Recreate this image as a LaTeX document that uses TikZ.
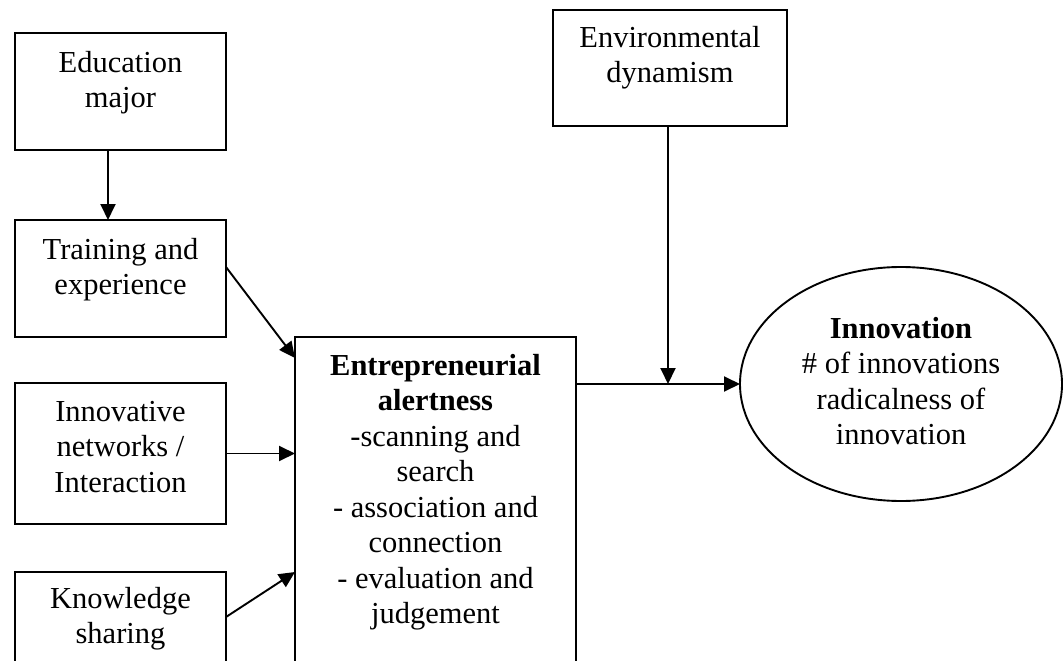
\documentclass[tikz,border=0pt]{standalone}
\usepackage{fontspec}
\setmainfont{Liberation Serif}
\usetikzlibrary{arrows.meta,shapes.geometric}
\tikzset{
  box/.style={draw, line width=1.9pt, rectangle, inner sep=0pt, outer sep=0pt},
  lbl/.style={anchor=north, align=center, inner sep=0pt},
  arr/.style={line width=1.9pt, -{Triangle[length=16pt,width=15pt]}}
}
\begin{document}
\begin{tikzpicture}[x=1pt, y=-1pt, font=\fontsize{30.5pt}{35.5pt}\selectfont]
\useasboundingbox (0,0) rectangle (1063,661);
\clip (0,0) rectangle (1063,661);
% boxes
\node[box, minimum width=211pt, minimum height=117pt] (edu) at (120.5,91.5) {};
\node[box, minimum width=211pt, minimum height=117pt] (train) at (120.5,278.5) {};
\node[box, minimum width=211pt, minimum height=141pt] (innov) at (120.5,453.5) {};
\node[box, minimum width=211pt, minimum height=118pt] (know) at (120.5,631) {};
\node[box, minimum width=281pt, minimum height=363pt] (main) at (435.5,518.5) {};
\node[box, minimum width=234pt, minimum height=116pt] (env) at (670,68) {};
\node[draw, line width=1.9pt, ellipse, minimum width=322pt, minimum height=234pt, inner sep=0pt, outer sep=0pt] (ell) at (901,384) {};
% texts
\node[lbl] (edut) at (120.5,47.15) {\strut Education\\major};
\node[lbl] (traint) at (120.5,234.15) {\strut Training and\\experience};
\node[lbl] (innovt) at (120.5,396.15) {\strut Innovative\\networks /\\Interaction};
\node[lbl] (knowt) at (120.5,583.15) {\strut Knowledge\\sharing};
\node[lbl] (envt) at (670,22.15) {\strut Environmental\\dynamism};
\node[lbl] (maint) at (435.5,350.15) {\strut\textbf{Entrepreneurial}\\\textbf{alertness}\\-scanning and\\search\\- association and\\connection\\- evaluation and\\judgement};
\node[lbl] (ellt) at (901,313.15) {\strut\textbf{Innovation}\\\# of innovations\\radicalness of\\innovation};
% connectors
\draw[arr] ([xshift=-12.5pt]edu.south) -- ([xshift=-12.5pt]train.north);
\draw[arr] ([yshift=11.5pt]train.east) -- ([yshift=-21pt]main.north west);
\draw[arr] (innov.east) -- (innov.east -| main.west);
\draw[arr] ([yshift=14pt]know.east) -- ([yshift=-235pt]main.north west);
\draw[arr] (ell.west -| main.east) -- (ell.west);
\coordinate (join) at ([xshift=-2pt]env.south |- ell.west);
\draw[arr] ([xshift=-2pt]env.south) -- (join);
\end{tikzpicture}
\end{document}
